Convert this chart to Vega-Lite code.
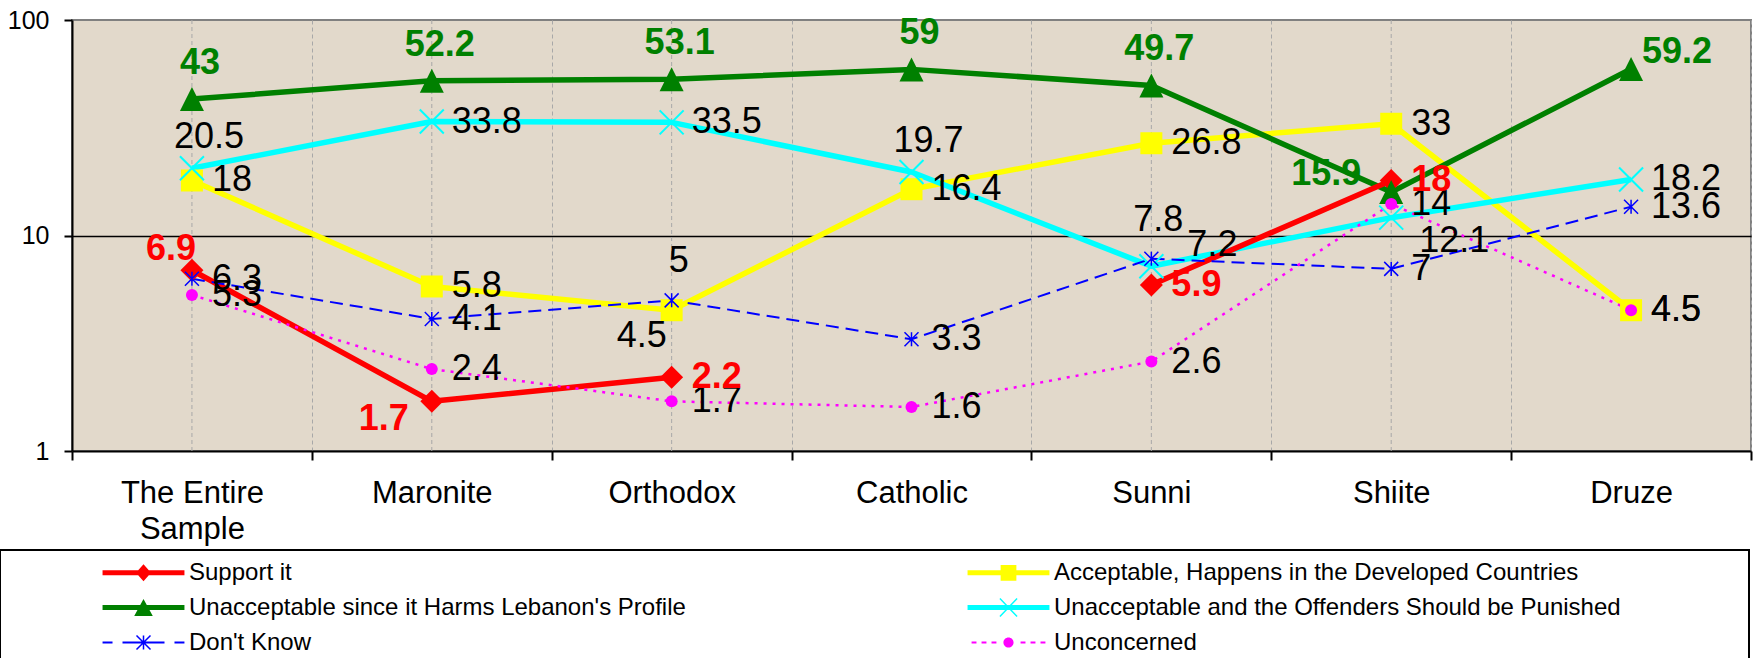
{
  "$schema": "https://vega.github.io/schema/vega-lite/v6.json",
  "width": 1679,
  "height": 431,
  "autosize": {"type": "none"},
  "padding": {"left": 72, "top": 20, "right": 3, "bottom": 207},
  "background": "white",
  "config": {
    "font": "Liberation Sans",
    "view": {"fill": "#E2D9CB", "stroke": "#808080", "strokeWidth": 2},
    "legend": {
      "orient": "none",
      "legendX": -72,
      "legendY": 530,
      "columns": 2,
      "columnPadding": 184,
      "rowPadding": 5,
      "padding": 5,
      "strokeColor": "black",
      "symbolOffset": 121,
      "labelOffset": 28,
      "labelLimit": 1000,
      "labelFontSize": 24,
      "labelFont": "Liberation Sans",
      "labelColor": "black",
      "symbolSize": 1225,
      "symbolStrokeWidth": 0,
      "symbolOpacity": 1,
      "titleOrient": "right",
      "titlePadding": 123,
      "titleFontSize": 10
    }
  },
  "data": {
    "values": [
      {"category": "The Entire Sample", "series": "Support it", "value": 6.9},
      {"category": "Maronite", "series": "Support it", "value": 1.7},
      {"category": "Orthodox", "series": "Support it", "value": 2.2},
      {"category": "Catholic", "series": "Support it", "value": null},
      {"category": "Sunni", "series": "Support it", "value": 5.9},
      {"category": "Shiite", "series": "Support it", "value": 18},
      {"category": "Druze", "series": "Support it", "value": null},
      {"category": "The Entire Sample", "series": "Acceptable, Happens in the Developed Countries", "value": 18},
      {"category": "Maronite", "series": "Acceptable, Happens in the Developed Countries", "value": 5.8},
      {"category": "Orthodox", "series": "Acceptable, Happens in the Developed Countries", "value": 4.5},
      {"category": "Catholic", "series": "Acceptable, Happens in the Developed Countries", "value": 16.4},
      {"category": "Sunni", "series": "Acceptable, Happens in the Developed Countries", "value": 26.8},
      {"category": "Shiite", "series": "Acceptable, Happens in the Developed Countries", "value": 33},
      {"category": "Druze", "series": "Acceptable, Happens in the Developed Countries", "value": 4.5},
      {"category": "The Entire Sample", "series": "Unacceptable since it Harms Lebanon's Profile", "value": 43},
      {"category": "Maronite", "series": "Unacceptable since it Harms Lebanon's Profile", "value": 52.2},
      {"category": "Orthodox", "series": "Unacceptable since it Harms Lebanon's Profile", "value": 53.1},
      {"category": "Catholic", "series": "Unacceptable since it Harms Lebanon's Profile", "value": 59},
      {"category": "Sunni", "series": "Unacceptable since it Harms Lebanon's Profile", "value": 49.7},
      {"category": "Shiite", "series": "Unacceptable since it Harms Lebanon's Profile", "value": 15.9},
      {"category": "Druze", "series": "Unacceptable since it Harms Lebanon's Profile", "value": 59.2},
      {"category": "The Entire Sample", "series": "Unacceptable and the Offenders Should be Punished", "value": 20.5},
      {"category": "Maronite", "series": "Unacceptable and the Offenders Should be Punished", "value": 33.8},
      {"category": "Orthodox", "series": "Unacceptable and the Offenders Should be Punished", "value": 33.5},
      {"category": "Catholic", "series": "Unacceptable and the Offenders Should be Punished", "value": 19.7},
      {"category": "Sunni", "series": "Unacceptable and the Offenders Should be Punished", "value": 7.2},
      {"category": "Shiite", "series": "Unacceptable and the Offenders Should be Punished", "value": 12.1},
      {"category": "Druze", "series": "Unacceptable and the Offenders Should be Punished", "value": 18.2},
      {"category": "The Entire Sample", "series": "Don't Know", "value": 6.3},
      {"category": "Maronite", "series": "Don't Know", "value": 4.1},
      {"category": "Orthodox", "series": "Don't Know", "value": 5},
      {"category": "Catholic", "series": "Don't Know", "value": 3.3},
      {"category": "Sunni", "series": "Don't Know", "value": 7.8},
      {"category": "Shiite", "series": "Don't Know", "value": 7},
      {"category": "Druze", "series": "Don't Know", "value": 13.6},
      {"category": "The Entire Sample", "series": "Unconcerned", "value": 5.3},
      {"category": "Maronite", "series": "Unconcerned", "value": 2.4},
      {"category": "Orthodox", "series": "Unconcerned", "value": 1.7},
      {"category": "Catholic", "series": "Unconcerned", "value": 1.6},
      {"category": "Sunni", "series": "Unconcerned", "value": 2.6},
      {"category": "Shiite", "series": "Unconcerned", "value": 14},
      {"category": "Druze", "series": "Unconcerned", "value": 4.5}
    ]
  },
  "encoding": {
    "x": {
      "field": "category",
      "type": "nominal",
      "sort": ["The Entire Sample", "Maronite", "Orthodox", "Catholic", "Sunni", "Shiite", "Druze"],
      "scale": {"paddingInner": 0, "paddingOuter": 0},
      "axis": {
        "title": null,
        "labelAngle": 0,
        "tickBand": "extent",
        "grid": true,
        "gridDash": [4, 3],
        "gridColor": "#A8A8A8",
        "gridWidth": 1,
        "domainColor": "black",
        "domainWidth": 2,
        "tickColor": "black",
        "tickWidth": 2,
        "tickSize": 9,
        "labelFont": "Liberation Sans",
        "labelFontSize": 31,
        "labelColor": "black",
        "labelPadding": 18,
        "labelLineHeight": 36,
        "labelExpr": "datum.value == 'The Entire Sample' ? ['The Entire', 'Sample'] : datum.value"
      }
    },
    "y": {
      "field": "value",
      "type": "quantitative",
      "scale": {"type": "log", "domain": [1, 100]},
      "axis": {
        "title": null,
        "values": [1, 10, 100],
        "format": "d",
        "grid": true,
        "gridColor": {"condition": {"test": "datum.value == 10", "value": "black"}, "value": "transparent"},
        "gridWidth": 1.5,
        "domainColor": "black",
        "domainWidth": 2,
        "tickColor": "black",
        "tickWidth": 2,
        "tickSize": 8,
        "labelFont": "Liberation Sans",
        "labelFontSize": 25,
        "labelColor": "black",
        "labelPadding": 15
      }
    }
  },
  "layer": [
    {
      "transform": [{"filter": {"field": "series", "equal": "Support it"}}],
      "mark": {"type": "rule", "strokeDash": [4, 3], "color": "#A8A8A8", "strokeWidth": 1},
      "encoding": {"y": {"datum": 1}, "y2": {"datum": 100}}
    },
    {
      "transform": [{"filter": {"field": "series", "equal": "Acceptable, Happens in the Developed Countries"}}],
      "mark": {"type": "line", "strokeWidth": 5.5, "strokeJoin": "round", "color": "#FFFF00"}
    },
    {
      "transform": [{"filter": {"field": "series", "equal": "Unacceptable and the Offenders Should be Punished"}}],
      "mark": {"type": "line", "strokeWidth": 5.5, "strokeJoin": "round", "color": "#00FFFF"}
    },
    {
      "transform": [{"filter": {"field": "series", "equal": "Unacceptable since it Harms Lebanon's Profile"}}],
      "mark": {"type": "line", "strokeWidth": 5.5, "strokeJoin": "round", "color": "#008000"}
    },
    {
      "transform": [{"filter": {"field": "series", "equal": "Support it"}}],
      "mark": {"type": "line", "strokeWidth": 5.5, "strokeJoin": "round", "color": "#FF0000", "invalid": "break-paths-filter-domains"}
    },
    {
      "transform": [{"filter": {"field": "series", "equal": "Don't Know"}}],
      "mark": {"type": "line", "strokeWidth": 2, "color": "#0000FF", "strokeDash": [13, 7]}
    },
    {
      "transform": [{"filter": {"field": "series", "equal": "Unconcerned"}}],
      "mark": {"type": "line", "strokeWidth": 2.5, "color": "#FF00FF", "strokeDash": [3, 6]}
    },
    {
      "transform": [{"filter": {"field": "series", "equal": "Support it"}}, {"filter": {"field": "value", "valid": true}}],
      "mark": {"type": "point", "shape": "M0,-1L1,0L0,1L-1,0Z", "filled": true, "color": "#FF0000", "size": 529, "opacity": 1}
    },
    {
      "transform": [{"filter": {"field": "series", "equal": "Acceptable, Happens in the Developed Countries"}}],
      "mark": {"type": "point", "shape": "square", "filled": true, "color": "#FFFF00", "size": 484, "opacity": 1}
    },
    {
      "transform": [{"filter": {"field": "series", "equal": "Unacceptable since it Harms Lebanon's Profile"}}],
      "mark": {"type": "point", "shape": "M0,-1L1,1L-1,1Z", "filled": true, "color": "#008000", "size": 576, "opacity": 1}
    },
    {
      "transform": [{"filter": {"field": "series", "equal": "Unacceptable and the Offenders Should be Punished"}}],
      "mark": {"type": "point", "shape": "M-1,-1L1,1M-1,1L1,-1", "filled": false, "color": "#00FFFF", "size": 576, "strokeWidth": 2, "opacity": 1}
    },
    {
      "transform": [{"filter": {"field": "series", "equal": "Don't Know"}}],
      "mark": {"type": "point", "shape": "M-1,-1L1,1M-1,1L1,-1M0,-1L0,1", "filled": false, "color": "#0000FF", "size": 196, "strokeWidth": 1.5, "opacity": 1}
    },
    {
      "transform": [{"filter": {"field": "series", "equal": "Unconcerned"}}],
      "mark": {"type": "point", "shape": "circle", "filled": true, "color": "#FF00FF", "size": 144, "opacity": 1}
    },
    {
      "transform": [{"filter": {"or": [
        {"and": [{"field": "series", "equal": "Acceptable, Happens in the Developed Countries"}, {"field": "category", "oneOf": ["The Entire Sample", "Maronite", "Catholic", "Sunni", "Shiite", "Druze"]}]},
        {"and": [{"field": "series", "equal": "Unacceptable and the Offenders Should be Punished"}, {"field": "category", "oneOf": ["Maronite", "Orthodox", "Druze"]}]},
        {"and": [{"field": "series", "equal": "Don't Know"}, {"field": "category", "oneOf": ["The Entire Sample", "Maronite", "Catholic", "Shiite", "Druze"]}]},
        {"field": "series", "equal": "Unconcerned"}
      ]}}],
      "mark": {"type": "text", "align": "left", "baseline": "middle", "dx": 20, "fontSize": 36, "color": "black"},
      "encoding": {"text": {"field": "value", "type": "quantitative", "format": "~g"}}
    },
    {
      "transform": [{"filter": {"and": [{"field": "series", "equal": "Unacceptable and the Offenders Should be Punished"}, {"field": "category", "oneOf": ["The Entire Sample", "Catholic"]}]}}],
      "mark": {"type": "text", "align": "center", "baseline": "middle", "dx": 17, "dy": -31, "fontSize": 36, "color": "black"},
      "encoding": {"text": {"field": "value", "type": "quantitative", "format": "~g"}}
    },
    {
      "transform": [{"filter": {"and": [{"field": "series", "equal": "Don't Know"}, {"field": "category", "oneOf": ["Orthodox", "Sunni"]}]}}],
      "mark": {"type": "text", "align": "center", "baseline": "middle", "dx": 7, "dy": -39, "fontSize": 36, "color": "black"},
      "encoding": {"text": {"field": "value", "type": "quantitative", "format": "~g"}}
    },
    {
      "transform": [{"filter": {"and": [{"field": "series", "equal": "Acceptable, Happens in the Developed Countries"}, {"field": "category", "equal": "Orthodox"}]}}],
      "mark": {"type": "text", "align": "center", "baseline": "middle", "dx": -30, "dy": 26, "fontSize": 36, "color": "black"},
      "encoding": {"text": {"field": "value", "type": "quantitative", "format": "~g"}}
    },
    {
      "transform": [{"filter": {"and": [{"field": "series", "equal": "Unacceptable and the Offenders Should be Punished"}, {"field": "category", "equal": "Sunni"}]}}],
      "mark": {"type": "text", "align": "left", "baseline": "middle", "dx": 36, "dy": -21, "fontSize": 36, "color": "black"},
      "encoding": {"text": {"field": "value", "type": "quantitative", "format": "~g"}}
    },
    {
      "transform": [{"filter": {"and": [{"field": "series", "equal": "Unacceptable and the Offenders Should be Punished"}, {"field": "category", "equal": "Shiite"}]}}],
      "mark": {"type": "text", "align": "left", "baseline": "middle", "dx": 28, "dy": 23, "fontSize": 36, "color": "black"},
      "encoding": {"text": {"field": "value", "type": "quantitative", "format": "~g"}}
    },
    {
      "transform": [{"filter": {"and": [{"field": "series", "equal": "Unacceptable since it Harms Lebanon's Profile"}, {"field": "category", "oneOf": ["The Entire Sample", "Maronite", "Orthodox", "Catholic", "Sunni"]}]}}],
      "mark": {"type": "text", "align": "center", "baseline": "middle", "dx": 8, "dy": -36, "fontSize": 36, "fontWeight": "bold", "color": "#008000"},
      "encoding": {"text": {"field": "value", "type": "quantitative", "format": "~g"}}
    },
    {
      "transform": [{"filter": {"and": [{"field": "series", "equal": "Unacceptable since it Harms Lebanon's Profile"}, {"field": "category", "equal": "Shiite"}]}}],
      "mark": {"type": "text", "align": "center", "baseline": "middle", "dx": -65, "dy": -18, "fontSize": 36, "fontWeight": "bold", "color": "#008000"},
      "encoding": {"text": {"field": "value", "type": "quantitative", "format": "~g"}}
    },
    {
      "transform": [{"filter": {"and": [{"field": "series", "equal": "Unacceptable since it Harms Lebanon's Profile"}, {"field": "category", "equal": "Druze"}]}}],
      "mark": {"type": "text", "align": "left", "baseline": "middle", "dx": 11, "dy": -17, "fontSize": 36, "fontWeight": "bold", "color": "#008000"},
      "encoding": {"text": {"field": "value", "type": "quantitative", "format": "~g"}}
    },
    {
      "transform": [{"filter": {"and": [{"field": "series", "equal": "Support it"}, {"field": "category", "oneOf": ["Orthodox", "Sunni", "Shiite"]}]}}],
      "mark": {"type": "text", "align": "left", "baseline": "middle", "dx": 20, "fontSize": 36, "fontWeight": "bold", "color": "#FF0000"},
      "encoding": {"text": {"field": "value", "type": "quantitative", "format": "~g"}}
    },
    {
      "transform": [{"filter": {"and": [{"field": "series", "equal": "Support it"}, {"field": "category", "equal": "The Entire Sample"}]}}],
      "mark": {"type": "text", "align": "center", "baseline": "middle", "dx": -21, "dy": -21, "fontSize": 36, "fontWeight": "bold", "color": "#FF0000"},
      "encoding": {"text": {"field": "value", "type": "quantitative", "format": "~g"}}
    },
    {
      "transform": [{"filter": {"and": [{"field": "series", "equal": "Support it"}, {"field": "category", "equal": "Maronite"}]}}],
      "mark": {"type": "text", "align": "center", "baseline": "middle", "dx": -48, "dy": 18, "fontSize": 36, "fontWeight": "bold", "color": "#FF0000"},
      "encoding": {"text": {"field": "value", "type": "quantitative", "format": "~g"}}
    },
    {
      "transform": [{"filter": "false"}],
      "mark": {"type": "point", "filled": true, "opacity": 1, "size": 1225, "strokeWidth": 0},
      "encoding": {
        "color": {
          "field": "series", "type": "nominal",
          "scale": {
            "domain": ["Support it", "Unacceptable since it Harms Lebanon's Profile", "Don't Know", "Acceptable, Happens in the Developed Countries", "Unacceptable and the Offenders Should be Punished", "Unconcerned"],
            "range": ["#FF0000", "#008000", "#0000FF", "#FFFF00", "#00FFFF", "#FF00FF"]
          },
          "legend": {"title": " ", "encode": {"legend": {"update": {"strokeWidth": {"value": 2}}}}}
        },
        "shape": {
          "field": "series", "type": "nominal",
          "scale": {
            "domain": ["Support it", "Unacceptable since it Harms Lebanon's Profile", "Don't Know", "Acceptable, Happens in the Developed Countries", "Unacceptable and the Offenders Should be Punished", "Unconcerned"],
            "range": [
              "M-2.34,-0.14H2.34V0.14H-2.34Z M0,-0.49L0.43,0L0,0.49L-0.43,0Z",
              "M-2.34,-0.14H2.34V0.14H-2.34Z M0,-0.48L0.53,0.48L-0.53,0.48Z",
              "M-2.34,-0.06H-1.77V0.06H-2.34Z M-1.2,-0.06H1.2V0.06H-1.2Z M1.77,-0.06H2.34V0.06H1.77Z M-0.043,-0.4H0.043V0.4H-0.043Z M-0.37,-0.43L0.43,0.37L0.37,0.43L-0.43,-0.37Z M-0.43,0.37L0.37,-0.43L0.43,-0.37L-0.37,0.43Z",
              "M-2.34,-0.14H2.34V0.14H-2.34Z M-0.45,-0.45H0.45V0.45H-0.45Z",
              "M-2.34,-0.14H2.34V0.14H-2.34Z M-0.46,-0.54L0.52,0.48L0.46,0.54L-0.52,-0.48Z M-0.52,0.48L0.46,-0.54L0.52,-0.48L-0.46,0.54Z",
              "M-2.11,-0.06H-1.83V0.06H-2.11Z M-1.54,-0.06H-1.26V0.06H-1.54Z M-0.97,-0.06H-0.69V0.06H-0.97Z M0.69,-0.06H0.97V0.06H0.69Z M1.26,-0.06H1.54V0.06H1.26Z M1.83,-0.06H2.11V0.06H1.83Z M-0.29,0A0.29,0.29,0,1,1,0.29,0A0.29,0.29,0,1,1,-0.29,0Z"
            ]
          },
          "legend": {"title": " ", "encode": {"legend": {"update": {"strokeWidth": {"value": 2}}}}}
        }
      }
    }
  ]
}
